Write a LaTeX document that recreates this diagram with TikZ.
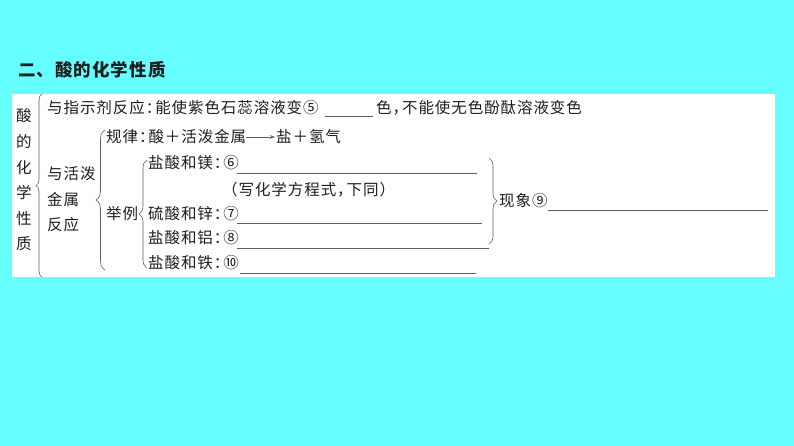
\documentclass[tikz,border=0pt]{standalone}
\usepackage{fontspec}
\newfontfamily\cjk[LetterSpace=6]{Noto Sans CJK SC}
\usetikzlibrary{decorations.pathreplacing,arrows.meta}
\definecolor{bgcyan}{RGB}{102,255,255}
\definecolor{ink}{RGB}{30,30,30}
\definecolor{linegray}{RGB}{95,95,95}
\newcommand\hc{：\kern-6pt}
\newcommand\hm{，\kern-6pt}
\tikzset{
  txt/.style={anchor=west, inner sep=0pt, text=ink, font=\cjk\fontsize{15.5}{25.6}\selectfont},
  blank/.style={draw=linegray, line width=0.7pt},
  bracket/.style={draw=linegray, line width=0.6pt, decorate, decoration={brace, amplitude=#1}}
}

\begin{document}
\begin{tikzpicture}[x=1pt, y=-1pt]
% Frame
    \fill[bgcyan] (0,0) rectangle (794,446);
    \useasboundingbox (0,0) rectangle (794,446);
    \fill[white] (12,94) rectangle (775,277);
% Title
    \node[txt, font=\cjk\bfseries\fontsize{17.5}{20}\selectfont] (title) at (18,70) {二、酸的化学性质};
% Left column
    \node[txt, anchor=center, align=center] (acid) at (24,180) {酸\\的\\化\\学\\性\\质};
    \draw[bracket=6pt] (42,277) -- (42,94);
% Indicator row
    \node[txt] (ind) at (47,108) {与指示剂反应\hc 能使紫色石蕊溶液变⑤};
    \draw[blank] (325,116) -- (373,116);
    \node[txt] (col) at (376,108) {色\hm 不能使无色酚酞溶液变色};
% Metal reaction
    \node[txt, align=left] (metal) at (47,199.5) {与活泼\\金属\\反应};
    \draw[bracket=9pt] (105,270) -- (105,130);
    \node[txt] (law) at (106,137) {规律\hc 酸＋活泼金属};
    \node[txt] (salt) at (276,137) {盐＋氢气};
    \draw[-{Stealth[length=5pt,width=3.5pt]}, linegray, line width=0.6pt, shorten >=1pt] (law) -- (salt);
    \node[txt] (eg) at (106,214) {举例};
    \draw[bracket=8pt] (147,268) -- (147,160);
% Examples
    \node[txt] (mg) at (148,163) {盐酸和镁\hc ⑥};
    \draw[blank] (237,173) -- (477,173);
    \node[txt] (note) at (222,190) {（写化学方程式\hm 下同）};
    \node[txt] (zn) at (148,214) {硫酸和锌\hc ⑦};
    \draw[blank] (237,223) -- (482,223);
    \node[txt] (al) at (148,238) {盐酸和铝\hc ⑧};
    \draw[blank] (237,248) -- (489,248);
    \node[txt] (fe) at (148,263) {盐酸和铁\hc ⑩};
    \draw[blank] (240,273) -- (476,273);
% Phenomenon
    \draw[bracket=8pt] (489,158) -- (489,244);
    \node[txt] (obs) at (499,201) {现象⑨};
    \draw[blank] (548,210) -- (768,210);
\end{tikzpicture}
\end{document}
